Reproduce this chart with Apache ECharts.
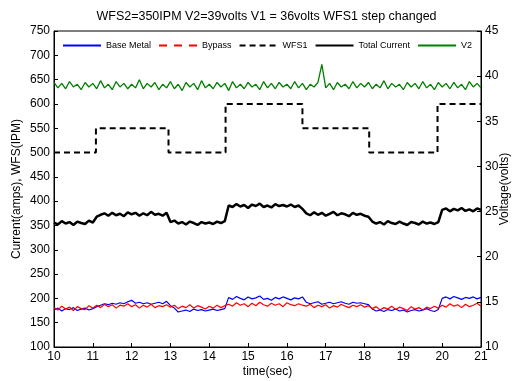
<!DOCTYPE html>
<html>
<head>
<meta charset="utf-8">
<script src="https://cdn.jsdelivr.net/npm/echarts@6/dist/echarts.min.js"></script>
<style>
html,body{margin:0;padding:0;background:#fff;}
#chart{width:513px;height:381px;}
</style>
</head>
<body>
<div id="chart"></div>
<script>
// Sampling grid for the measured traces (seconds)
const sampleStart = 10;
const sampleStep = 0.1;

// Base Metal current (amps)
const baseMetal = [
  176,180,174,179,177,181,175,178,180,176,179,
  183,186,189,187,190,188,191,189,193,
  196,190,192,189,191,188,190,192,189,194,
  185,180,172,174,176,173,178,175,177,174,
  176,178,175,177,179,
  202,198,204,200,197,203,199,201,205,198,200,196,202,199,203,200,197,201,199,203,
  192,189,191,193,188,190,192,189,191,193,190,188,192,190,191,189,187,
  178,174,176,173,177,175,178,174,176,172,175,177,174,176,179,175,173,177,
  200,203,199,204,201,198,202,200,203,199,202
];

// Bypass current (amps)
const bypass = [
  181,176,184,178,182,175,183,179,177,185,180,
  186,181,188,183,187,180,186,184,189,
  183,187,180,186,182,188,181,185,183,187,
  182,186,179,184,181,187,180,185,182,178,
  184,180,186,181,185,
  188,184,191,186,189,183,190,185,192,187,184,190,186,189,183,191,187,185,189,186,
  184,188,181,186,183,187,180,185,182,188,184,181,186,183,187,182,185,
  179,183,176,181,178,184,177,182,179,175,183,178,181,176,182,179,184,180,
  186,182,189,184,187,181,188,183,186,190,184
];

// Total current (amps)
const totalCurrent = [
  356,352,359,354,357,351,358,355,353,360,356,
  368,372,375,370,376,371,374,369,377,
  373,376,370,375,371,378,372,374,370,376,
  357,360,354,357,352,358,355,351,357,354,
  356,353,358,355,359,
  391,388,394,389,392,386,393,390,395,388,391,387,394,390,392,389,393,388,391,384,
  375,371,377,372,376,370,374,378,371,375,373,369,376,372,374,370,368,
  358,354,357,352,359,355,353,358,354,351,357,355,352,358,354,356,353,357,
  382,385,379,384,381,386,380,383,379,385,382
];

// V2 voltage (volts, right axis)
const v2 = [
  39.3,38.7,39.2,38.6,39.4,38.8,39.1,38.5,39.3,38.8,
  39.2,38.6,39.5,38.7,39.1,38.5,39.4,38.8,39.2,38.6,
  39.1,38.7,39.6,38.6,39.2,38.8,39.3,38.5,39.1,38.7,
  39.4,38.6,39.1,38.4,39.3,38.8,39.2,38.5,39.5,38.7,
  39.1,38.6,39.3,38.8,39.2,38.4,39.4,38.7,39.1,38.6,
  39.3,38.8,39.1,38.5,39.4,38.7,39.2,38.6,39.3,38.8,
  39.1,38.6,39.4,38.7,39.2,38.5,39.1,38.8,39.3,41.3,
  38.7,39.2,38.5,39.3,38.8,39.1,38.6,39.4,38.7,39.2,
  38.8,39.3,38.6,39.1,38.7,39.5,38.6,39.2,38.8,39.1,
  38.5,39.3,38.8,39.2,38.6,39.4,38.7,39.1,38.5,39.3,
  38.8,39.2,38.6,39.3,38.7,39.1,38.5,39.4,38.8,39.2,38.7
];

// WFS1 step command (IPM): change times and new levels
const wfsTimes  = [10, 11.08, 12.95, 14.42, 16.40, 18.12, 19.88, 21];
const wfsValues = [500, 550, 500, 600, 550, 500, 600, 600];

// Axis ticks
const xTicks = {min: 10, max: 21, interval: 1};
const leftTicks = {min: 100, max: 750, interval: 50};
const rightTicks = {min: 10, max: 45, interval: 5};

const seriesNames = ['Base Metal', 'Bypass', 'WFS1', 'Total Current', 'V2'];

function pairs(vals) {
  return vals.map((v, i) => [+(sampleStart + i * sampleStep).toFixed(2), v]);
}
const wfsData = wfsTimes.map((t, i) => [t, wfsValues[i]]);

const FONT = '"Liberation Sans", Arial, Helvetica, sans-serif';
const axisCommon = {
  axisLine: {show: true, lineStyle: {color: '#000', width: 1}},
  axisTick: {show: true, inside: true, length: 4, lineStyle: {color: '#000'}},
  axisLabel: {color: '#000', fontSize: 12, fontFamily: FONT, margin: 4},
  splitLine: {show: false},
  nameMoveOverlap: false,
  nameTextStyle: {color: '#000', fontSize: 12, fontFamily: FONT}
};

const chart = echarts.init(document.getElementById('chart'), null, {renderer: 'canvas'});
chart.setOption({
  animation: false,
  backgroundColor: '#fff',
  title: {
    text: 'WFS2=350IPM V2=39volts V1 = 36volts WFS1 step changed',
    left: 266.5, textAlign: 'center', top: 10, padding: 0,
    textStyle: {fontSize: 12.5, fontWeight: 'normal', color: '#000', fontFamily: FONT}
  },
  legend: {
    left: 62, top: 41, padding: 0, itemGap: 7, itemWidth: 38, itemHeight: 10,
    itemStyle: {opacity: 0},
    textStyle: {fontSize: 9, color: '#000', fontFamily: FONT},
    data: [
      {name: seriesNames[0]},
      {name: seriesNames[1], lineStyle: {type: [8, 7]}},
      {name: seriesNames[2]},
      {name: seriesNames[3]},
      {name: seriesNames[4]}
    ]
  },
  grid: {left: 54, right: 32, top: 31, bottom: 34, show: true, borderColor: '#000', borderWidth: 1,
         backgroundColor: 'transparent', outerBoundsMode: 'none', containLabel: false},
  xAxis: Object.assign({}, axisCommon, {
    type: 'value', min: xTicks.min, max: xTicks.max, interval: xTicks.interval,
    name: 'time(sec)', nameLocation: 'middle', nameGap: 19
  }),
  yAxis: [
    Object.assign({}, axisCommon, {
      type: 'value', min: leftTicks.min, max: leftTicks.max, interval: leftTicks.interval,
      position: 'left', name: 'Current(amps), WFS(IPM)', nameLocation: 'middle', nameGap: 31
    }),
    Object.assign({}, axisCommon, {
      type: 'value', min: rightTicks.min, max: rightTicks.max, interval: rightTicks.interval,
      position: 'right', name: 'Voltage(volts)', nameLocation: 'middle', nameGap: 18
    })
  ],
  series: [
    {name: seriesNames[0], type: 'line', yAxisIndex: 0, data: pairs(baseMetal), symbol: 'none',
     itemStyle: {color: '#0000ff'}, lineStyle: {color: '#0000ff', width: 1.2}},
    {name: seriesNames[1], type: 'line', yAxisIndex: 0, data: pairs(bypass), symbol: 'none',
     itemStyle: {color: '#ff0000'}, lineStyle: {color: '#ff0000', width: 1.2}},
    {name: seriesNames[2], type: 'line', yAxisIndex: 0, data: wfsData, symbol: 'none', step: 'end',
     itemStyle: {color: '#000'}, lineStyle: {color: '#000', width: 2, type: [6, 4]}},
    {name: seriesNames[3], type: 'line', yAxisIndex: 0, data: pairs(totalCurrent), symbol: 'none',
     itemStyle: {color: '#000'}, lineStyle: {color: '#000', width: 2.5}},
    {name: seriesNames[4], type: 'line', yAxisIndex: 1, data: pairs(v2), symbol: 'none',
     itemStyle: {color: '#008000'}, lineStyle: {color: '#008000', width: 1.3}}
  ]
});
</script>
</body>
</html>
